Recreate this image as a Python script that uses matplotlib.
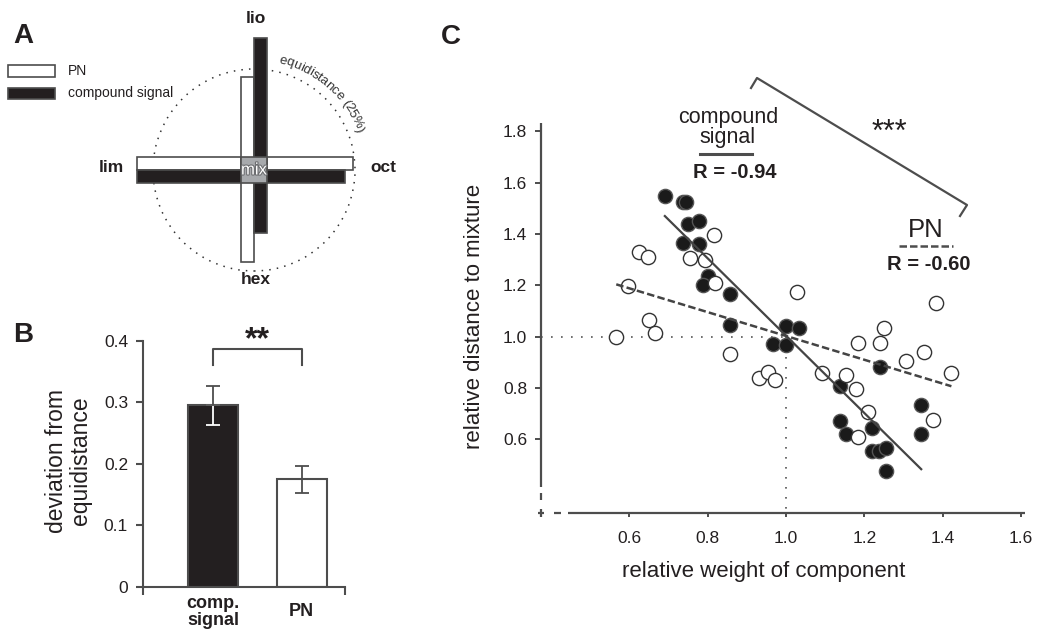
import numpy as np
import matplotlib.pyplot as plt
from matplotlib.patches import Rectangle, Circle
from matplotlib.lines import Line2D
import matplotlib.patheffects as pe

plt.rcParams['font.family'] = ['Liberation Sans', 'DejaVu Sans']

INK = '#231f20'
AXC = '#4d4d4d'

# panel A: length of each arm, in units of the equidistance radius
arm_names = ['lio', 'oct', 'hex', 'lim']
pn_arm = [0.92, 0.98, 0.91, 1.16]
cs_arm = [1.31, 0.90, 0.62, 1.16]

# panel B
b_labels = ['comp.\nsignal', 'PN']
b_mean = [0.295, 0.175]
b_sem = [0.032, 0.022]

# panel C: compound signal (filled) and PN (open)
cs_x = [0.691, 0.736, 0.746, 0.749, 0.778, 0.736, 0.778, 0.800, 0.788, 0.858,
        0.858, 1.000, 1.034, 0.966, 1.000, 1.239, 1.137, 1.137, 1.153, 1.220,
        1.220, 1.237, 1.254, 1.254, 1.345, 1.345]
cs_y = [1.546, 1.524, 1.524, 1.440, 1.451, 1.365, 1.361, 1.236, 1.200, 1.166,
        1.046, 1.040, 1.033, 0.973, 0.967, 0.883, 0.810, 0.671, 0.622, 0.645,
        0.556, 0.556, 0.565, 0.479, 0.735, 0.622]
pn_x = [0.567, 0.597, 0.624, 0.649, 0.651, 0.666, 0.756, 0.793, 0.817, 0.819,
        0.858, 0.932, 0.954, 0.973, 1.027, 1.093, 1.153, 1.179, 1.184, 1.210,
        1.184, 1.239, 1.249, 1.307, 1.351, 1.384, 1.376, 1.422]
pn_y = [0.997, 1.199, 1.329, 1.312, 1.064, 1.016, 1.305, 1.298, 1.395, 1.208,
        0.931, 0.838, 0.861, 0.830, 1.172, 0.857, 0.851, 0.798, 0.976, 0.708,
        0.611, 0.976, 1.033, 0.907, 0.940, 1.130, 0.675, 0.857]

W, H = 1037, 632
fig = plt.figure(figsize=(W / 100, H / 100), dpi=100)


def fx(px):
    return px / W


def fy(py):
    return 1 - py / H


# ---------------- A ----------------
ax_a = fig.add_axes([0, fy(300), fx(420), 300 / H])
ax_a.set_xlim(-254, 166)
ax_a.set_ylim(-130, 170)
ax_a.axis('off')

R = 101
w = 13.3
pn = dict(zip(arm_names, pn_arm))
cs = dict(zip(arm_names, cs_arm))

ax_a.add_patch(Circle((0, 0), R, fill=False, ec='#333333', lw=1.1, ls=(0, (1, 4))))
ax_a.add_patch(Rectangle((-pn['lim'] * R, 0), (pn['lim'] + pn['oct']) * R, w,
                         fc='white', ec=AXC, lw=1.2))
ax_a.add_patch(Rectangle((-cs['lim'] * R, -w), (cs['lim'] + cs['oct']) * R, w,
                         fc=INK, ec=AXC, lw=1.2))
ax_a.add_patch(Rectangle((-w, -pn['hex'] * R), w, (pn['hex'] + pn['lio']) * R,
                         fc='white', ec=AXC, lw=1.2))
ax_a.add_patch(Rectangle((0, -cs['hex'] * R), w, (cs['hex'] + cs['lio']) * R,
                         fc=INK, ec=AXC, lw=1.2))
ax_a.add_patch(Rectangle((-w, -w), 2 * w, 2 * w, fc='#a7a9ac', ec=AXC, lw=1.2, zorder=3))
ax_a.text(0, 0, 'mix', ha='center', va='center', fontsize=12, color='white', zorder=4,
          path_effects=[pe.withStroke(linewidth=1.6, foreground='#6d6e71')])

lab_kw = dict(ha='center', va='center', fontsize=12.5, fontweight='bold', color=INK)
ax_a.text(1.7, 151.7, 'lio', **lab_kw)
ax_a.text(1.7, -110, 'hex', **lab_kw)
ax_a.text(-143, 2, 'lim', **lab_kw)
ax_a.text(129, 2, 'oct', **lab_kw)

# curved label along the circle
arc_txt = 'equidistance (25%)'
adv = {'e': .556, 'q': .556, 'u': .556, 'i': .222, 'd': .556, 's': .5, 't': .278,
       'a': .556, 'n': .556, 'c': .5, ' ': .278, '(': .333, '2': .556, '5': .556,
       '%': .889, ')': .333}
fs_arc = 9.5
em = fs_arc * 100 / 72
r_txt = 113
th0 = np.deg2rad(75)
s = 0.0
for i, ch in enumerate(arc_txt):
    if i > 0:
        s += (adv[arc_txt[i - 1]] + adv[ch]) * em / 2
    th = th0 - s / r_txt
    ax_a.text(r_txt * np.cos(th), r_txt * np.sin(th), ch, rotation=np.rad2deg(th) - 90,
              rotation_mode='anchor', ha='center', va='center', fontsize=fs_arc,
              color='#333333')

# legend of panel A
ax_a.add_patch(Rectangle((8.3 - 254, 170 - 76.7), 46.7, 11.7, fc='white', ec=AXC, lw=1.2))
ax_a.add_patch(Rectangle((8.3 - 254, 170 - 99.3), 46.7, 11, fc=INK, ec=AXC, lw=1.2))
ax_a.text(68 - 254, 170 - 71, 'PN', ha='left', va='center', fontsize=10, color=INK)
ax_a.text(68 - 254, 170 - 93, 'compound signal', ha='left', va='center', fontsize=10, color=INK)

# ---------------- B ----------------
ax_b = fig.add_axes([fx(143.3), fy(587), fx(345) - fx(143.3), (587 - 340.7) / H])
xb = np.arange(len(b_labels))
ax_b.bar(xb, b_mean, width=0.566, color=[INK, 'white'], edgecolor=AXC, lw=1.5, zorder=2)
for i in range(len(b_labels)):
    low_col = 'white' if i == 0 else AXC
    ax_b.errorbar(xb[i], b_mean[i], yerr=[[b_sem[i]], [0]], color=low_col, capsize=5,
                  lw=1.3, capthick=1.3, zorder=3)
    ax_b.errorbar(xb[i], b_mean[i], yerr=[[0], [b_sem[i]]], color=AXC, capsize=5,
                  lw=1.3, capthick=1.3, zorder=3)
ax_b.set_xlim(-0.792, 1.49)
ax_b.set_ylim(0, 0.4)
ax_b.set_yticks([0, 0.1, 0.2, 0.3, 0.4])
ax_b.set_yticklabels(['0', '0.1', '0.2', '0.3', '0.4'])
ax_b.set_xticks(xb)
ax_b.set_xticklabels(b_labels, fontweight='bold', fontsize=13, linespacing=1.0)
for t in ax_b.get_xticklabels():
    t.set_va('center')
ax_b.set_xticks([-0.792, 1.49], minor=True)
ax_b.tick_params(axis='x', which='major', length=0, pad=18, colors=INK)
ax_b.tick_params(axis='x', which='minor', length=6, width=1.5, color=AXC, direction='out')
ax_b.tick_params(axis='y', length=5, width=1.5, color=AXC, labelcolor=INK, labelsize=12.5, pad=6)
for sp in ['top', 'right']:
    ax_b.spines[sp].set_visible(False)
for sp in ['left', 'bottom']:
    ax_b.spines[sp].set_color(AXC)
    ax_b.spines[sp].set_linewidth(1.5)
ax_b.plot([0, 0, 1, 1], [0.3605, 0.386, 0.386, 0.3605], color=AXC, lw=1.5, clip_on=False)
ax_b.text(0.5, 0.387, '**', ha='center', va='baseline', fontsize=23, fontweight='bold',
          color=INK, clip_on=False)
ax_b.set_ylabel('deviation from\nequidistance', fontsize=16.5, color=INK, linespacing=1.1)
ax_b.yaxis.set_label_coords(-0.371, 0.512)
ax_b.yaxis.label.set_va('center')
ax_b.yaxis.label.set_ha('center')

# ---------------- C ----------------
x0, y0 = 0.375, 0.315
ax_c = fig.add_axes([fx(541), fy(512.7), (1029 - 541) / W, (512.7 - 115.7) / H])
ax_c.set_xlim(x0, 1.62)
ax_c.set_ylim(y0, 1.86)
for sp in ax_c.spines.values():
    sp.set_visible(False)

dot = (0, (1, 5))
ax_c.plot([x0, 1.0], [1.0, 1.0], ls=dot, lw=1.2, color='#555555', zorder=1)
ax_c.plot([1.0, 1.0], [1.0, y0], ls=dot, lw=1.2, color='#555555', zorder=1)

ax_c.scatter(cs_x, cs_y, s=105, c='#1a1a1a', edgecolors='#555555', linewidths=1, zorder=3)
ax_c.scatter(pn_x, pn_y, s=105, facecolors='white', edgecolors='#333333', linewidths=1, zorder=4)

for xs, ys, ls, lw in [(cs_x, cs_y, '-', 1.6), (pn_x, pn_y, (0, (3, 1.3)), 1.8)]:
    p = np.polyfit(xs, ys, 1)
    xx = np.array([min(xs), max(xs)])
    ax_c.plot(xx, np.polyval(p, xx), ls=ls, lw=lw, color='#444444', zorder=5)

# broken axes
ak = dict(color=AXC, lw=1.6, clip_on=False, solid_capstyle='butt', zorder=2)
ax_c.plot([x0, x0], [0.416, 1.83], **ak)
ax_c.plot([x0, x0], [0.366, 0.39], **ak)
ax_c.plot([x0, x0], [0.299, 0.331], **ak)
ax_c.plot([0.443, 1.61], [y0, y0], **ak)
ax_c.plot([0.409, 0.427], [y0, y0], **ak)
ax_c.plot([0.367, 0.383], [y0, y0], **ak)

ax_c.set_xticks(np.arange(0.6, 1.61, 0.2))
ax_c.set_xticklabels(['%.1f' % v for v in np.arange(0.6, 1.61, 0.2)])
ax_c.set_yticks(np.arange(0.6, 1.81, 0.2))
ax_c.set_yticklabels(['%.1f' % v for v in np.arange(0.6, 1.81, 0.2)])
ax_c.tick_params(axis='y', direction='out', length=4, width=1.4, color=AXC,
                 labelcolor=INK, labelsize=12.5, pad=6)
ax_c.tick_params(axis='x', direction='out', length=3, width=1.4, color=AXC,
                 labelcolor=INK, labelsize=12.5, pad=10)
ax_c.set_xlabel('relative weight of component', fontsize=16, color=INK)
ax_c.xaxis.set_label_coords(0.456, -0.149)
ax_c.xaxis.label.set_va('center')
ax_c.set_ylabel('relative distance to mixture', fontsize=16, color=INK)
ax_c.yaxis.set_label_coords(-0.137, 0.4955)
ax_c.yaxis.label.set_va('center')
ax_c.yaxis.label.set_ha('center')

# legend-like annotations and significance bracket (figure pixels)
fig.text(fx(728), fy(118), 'compound', ha='center', va='center', fontsize=15.5, color=INK)
fig.text(fx(728), fy(137), 'signal', ha='center', va='center', fontsize=15.5, color=INK)
fig.add_artist(Line2D([fx(700), fx(752)], [fy(154), fy(154)], lw=2.2, color=AXC))
fig.text(fx(735), fy(172), 'R = -0.94', ha='center', va='center', fontsize=14.5,
         fontweight='bold', color=INK)
fig.text(fx(926), fy(230), 'PN', ha='center', va='center', fontsize=18.5, color=INK)
fig.add_artist(Line2D([fx(899), fx(953)], [fy(246), fy(246)], lw=1.8, color=AXC,
                      ls=(0, (3, 1.2))))
fig.text(fx(928.5), fy(265), 'R = -0.60', ha='center', va='center', fontsize=14.5,
         fontweight='bold', color=INK)
fig.add_artist(Line2D([fx(751), fx(757), fx(967), fx(960)],
                      [fy(88), fy(78), fy(205), fy(216)], lw=1.6, color=AXC))
fig.text(fx(889), fy(141), '***', ha='center', va='baseline', fontsize=22, color=INK)

# panel letters
for lt, px, py in [('A', 23, 36), ('B', 23, 335), ('C', 451, 37)]:
    fig.text(fx(px), fy(py), lt, ha='center', va='center', fontsize=20,
             fontweight='bold', color=INK)

fig.savefig('out.png', dpi=100)
